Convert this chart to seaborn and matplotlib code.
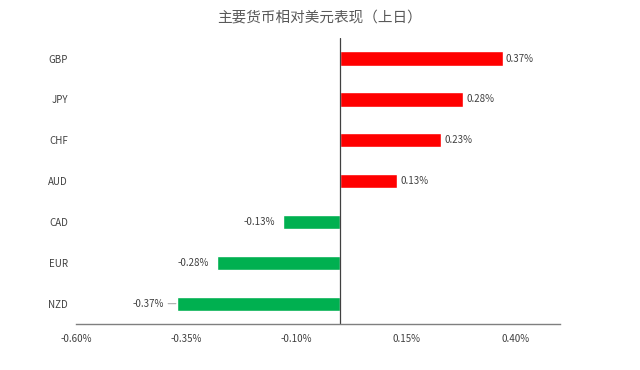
import pandas as pd
import seaborn as sns
import matplotlib.pyplot as plt

# currencies vs USD, previous day (%)
currencies = ['GBP', 'JPY', 'CHF', 'AUD', 'CAD', 'EUR', 'NZD']
changes = [0.37, 0.28, 0.23, 0.13, -0.13, -0.28, -0.37]
x_ticks = [-0.60, -0.35, -0.10, 0.15, 0.40]
title = '主要货币相对美元表现（上日）'

df = pd.DataFrame({'currency': currencies, 'change': changes})
df['sign'] = ['up' if v >= 0 else 'down' for v in df['change']]

sns.set_style('white')
plt.rcParams['font.family'] = ['Noto Sans CJK SC', 'DejaVu Sans']

fig = plt.figure(figsize=(6.4, 3.7), dpi=100)
ax = fig.add_axes([0.119, 0.124, 0.756, 0.773])

sns.barplot(data=df, x='change', y='currency', hue='sign', orient='h',
            palette={'up': '#FF0000', 'down': '#00B050'}, width=0.35,
            legend=False, saturation=1, ax=ax)

ax.set_xlim(-0.6, 0.5)
ax.set_ylim(len(currencies) - 0.5, -0.5)
ax.set_xticks(x_ticks)
ax.set_xticklabels([f'{t:.2f}%' for t in x_ticks])
ax.set_xlabel('')
ax.set_ylabel('')

ax.axvline(0, color='#404040', lw=0.9)
for s in ['top', 'right', 'left']:
    ax.spines[s].set_visible(False)
ax.spines['bottom'].set_color('#7f7f7f')
ax.spines['bottom'].set_linewidth(1.0)

ax.tick_params(axis='both', length=0, labelsize=7, labelcolor='#404040')
ax.tick_params(axis='y', pad=6)
ax.tick_params(axis='x', pad=7)

for i, v in enumerate(changes):
    label = f'{v:.2f}%'
    if v >= 0:
        ax.annotate(label, (v, i), xytext=(2, 0), textcoords='offset points',
                    ha='left', va='center', fontsize=7, color='#404040')
    elif i == len(changes) - 1:
        ax.annotate(label, (v, i), xytext=(-10, 0), textcoords='offset points',
                    ha='right', va='center', fontsize=7, color='#404040',
                    arrowprops=dict(arrowstyle='-', color='#a0a0a0', lw=0.7,
                                    shrinkA=1, shrinkB=1))
    else:
        ax.annotate(label, (v, i), xytext=(-6, 0), textcoords='offset points',
                    ha='right', va='center', fontsize=7, color='#404040')

fig.text(0.5, 0.951, title, ha='center', va='center', fontsize=10.5,
         color='#595959')

fig.savefig('out.png', dpi=100)
